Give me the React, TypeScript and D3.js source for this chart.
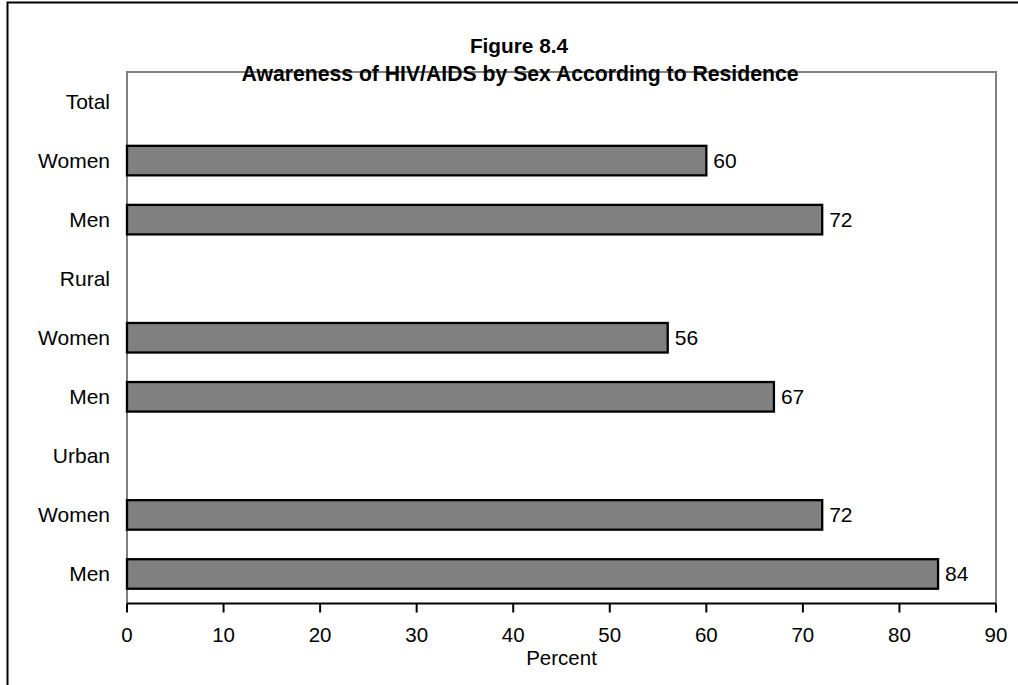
import React from "react";
import * as d3 from "d3";

// Row labels from top to bottom; group headers carry no bar.
const rowLabels = ["Total", "Women", "Men", "Rural", "Women", "Men", "Urban", "Women", "Men"];
const rowValues: (number | null)[] = [null, 60, 72, null, 56, 67, null, 72, 84];
const xTicks = [0, 10, 20, 30, 40, 50, 60, 70, 80, 90];
const titleLines = ["Figure 8.4", "Awareness of HIV/AIDS by Sex According to Residence"];
const xAxisTitle = "Percent";

const W = 1018;
const H = 685;
const plot = { left: 127, right: 996, top: 72, bottom: 603.5 };
const font = "Arial, 'Liberation Sans', Helvetica, sans-serif";

export default function App() {
  const x = d3.scaleLinear().domain([0, 90]).range([plot.left, plot.right]);
  const y = d3
    .scaleBand<number>()
    .domain(rowLabels.map((_, i) => i))
    .range([plot.top, plot.bottom])
    .paddingInner(0.5)
    .paddingOuter(0.25);
  const step = y.step();

  return (
    <svg
      width={W}
      height={H}
      style={{ position: "absolute", left: 0, top: 0, background: "#fff" }}
      fontFamily={font}
    >
      <rect x={0} y={0} width={W} height={H} fill="#fff" />
      {/* outer frame */}
      <rect x={7.5} y={2.5} width={1040} height={720} fill="none" stroke="#000" strokeWidth={2} />

      {/* plot frame: grey top, left and right edges */}
      <path
        d={`M${plot.left},${plot.bottom} V${plot.top} H${plot.right} V${plot.bottom}`}
        fill="none"
        stroke="#808080"
        strokeWidth={2}
      />

      {/* bars */}
      {rowValues.map((v, i) =>
        v == null ? null : (
          <g key={i}>
            <rect
              x={x(0)}
              y={y(i)!}
              width={x(v) - x(0)}
              height={y.bandwidth()}
              fill="#808080"
              stroke="#000"
              strokeWidth={2.3}
            />
            <text
              x={x(v) + 7}
              y={y(i)! + y.bandwidth() / 2}
              dy="0.35em"
              fontSize={21}
              fill="#000"
            >
              {v}
            </text>
          </g>
        )
      )}

      {/* row labels */}
      {rowLabels.map((l, i) => (
        <text
          key={i}
          x={110}
          y={plot.top + step * (i + 0.5)}
          dy="0.35em"
          textAnchor="end"
          fontSize={21}
          fill="#000"
        >
          {l}
        </text>
      ))}

      {/* x axis */}
      <line x1={plot.left} x2={plot.right} y1={plot.bottom} y2={plot.bottom} stroke="#000" strokeWidth={2} />
      {xTicks.map((t) => (
        <g key={t}>
          <line x1={x(t)} x2={x(t)} y1={plot.bottom} y2={plot.bottom + 9} stroke="#000" strokeWidth={2} />
          <text x={x(t)} y={641.5} textAnchor="middle" fontSize={20.5} fill="#000">
            {t}
          </text>
        </g>
      ))}
      <text x={(plot.left + plot.right) / 2} y={665} textAnchor="middle" fontSize={20.5} fill="#000">
        {xAxisTitle}
      </text>

      {/* title */}
      <text x={519} y={53.3} textAnchor="middle" fontSize={20.8} fontWeight="bold" fill="#000">
        {titleLines[0]}
      </text>
      <text x={520} y={80.7} textAnchor="middle" fontSize={21.2} fontWeight="bold" fill="#000">
        {titleLines[1]}
      </text>
    </svg>
  );
}
